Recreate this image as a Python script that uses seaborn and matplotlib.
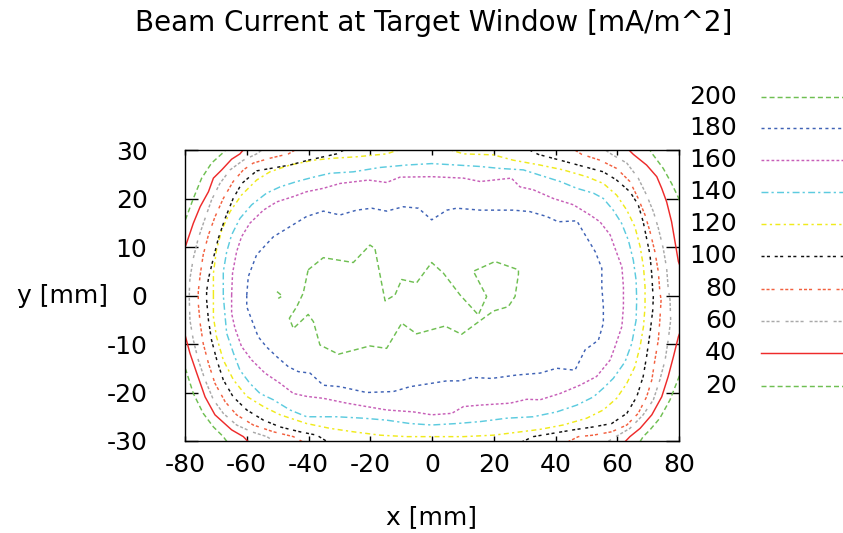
import numpy as np
import pandas as pd
import matplotlib
matplotlib.use("Agg")
import matplotlib.pyplot as plt
from matplotlib.lines import Line2D
import seaborn as sns

# ---------------- data ----------------
levels = ["200", "180", "160", "140", "120", "100", "80", "60", "40", "20"]

c200 = [
    [(-40.1, 5.3), (-35.2, 7.8), (-25.5, 6.8), (-20.1, 10.4), (-18.5, 9.7), (-15.2, -1.1),
     (-12.0, 0.1), (-9.8, 3.3), (-5.0, 2.6), (-0.1, 6.8), (3.7, 4.6), (9.1, 0.1),
     (15.0, -4.0), (17.7, -0.2), (13.4, 5.0), (20.4, 7.0), (28.0, 5.3), (28.0, 4.4),
     (26.9, -0.2), (24.7, -2.3), (19.9, -3.2), (14.5, -5.7), (9.6, -8.0), (4.2, -6.3),
     (-5.0, -7.9), (-9.8, -5.7), (-14.7, -10.9), (-20.1, -10.4), (-30.3, -12.1),
     (-36.3, -10.2), (-38.4, -5.4), (-40.1, -3.9), (-44.9, -6.8), (-46.2, -4.7),
     (-43.8, -2.3), (-41.7, 0.5), (-40.1, 5.3)],
    [(-50.2, 0.8), (-48.5, -0.1), (-49.8, -0.6)],
]

c180 = [
    [(-60.0, 0.1), (-59.5, 3.9), (-56.8, 8.4), (-51.4, 12.1), (-46.0, 14.2), (-40.6, 16.3),
     (-35.2, 17.4), (-29.8, 16.6), (-24.4, 17.6), (-19.5, 18.0), (-14.7, 17.4), (-9.3, 18.3),
     (-4.4, 18.0), (-0.1, 15.6), (4.8, 17.6), (8.0, 18.0), (15.6, 17.6), (26.3, 17.6),
     (31.7, 17.3), (37.1, 16.3), (40.9, 15.2), (46.9, 15.4), (49.6, 12.5), (52.9, 9.0),
     (55.0, 5.6), (55.0, 1.8), (55.5, -2.3), (55.5, -5.7), (53.9, -9.2), (49.6, -11.2),
     (46.3, -15.4), (40.4, -15.0), (35.0, -16.0), (27.4, -16.4), (19.3, -17.1),
     (13.4, -16.9), (9.1, -17.6), (4.8, -17.6), (-0.1, -18.1), (-7.1, -18.8),
     (-12.5, -19.8), (-21.2, -20.0), (-29.8, -18.8), (-35.2, -18.5), (-39.5, -16.0),
     (-43.3, -15.7), (-46.5, -14.7), (-50.3, -12.6), (-53.6, -10.6), (-56.3, -8.5),
     (-58.4, -5.0), (-60.0, -2.3), (-60.0, 0.1)],
]

c160 = [
    [(-64.9, 0.1), (-64.6, 4.6), (-63.3, 9.0), (-61.7, 12.1), (-59.0, 14.9), (-54.6, 17.6),
     (-50.3, 19.3), (-44.9, 20.4), (-40.6, 21.4), (-35.2, 22.1), (-29.8, 23.1),
     (-20.6, 23.8), (-14.7, 23.3), (-10.4, 24.4), (-0.1, 24.5), (10.2, 24.2), (15.6, 23.5),
     (25.7, 24.2), (28.5, 22.4), (32.8, 21.8), (39.3, 20.0), (45.8, 18.7), (51.2, 16.6),
     (54.4, 15.2), (57.7, 12.5), (59.3, 9.7), (61.5, 5.9), (62.0, 1.8), (62.0, -2.3),
     (61.5, -6.4), (59.3, -10.5), (57.7, -13.3), (53.3, -16.7), (47.9, -18.5),
     (41.5, -20.2), (35.0, -21.5), (30.7, -21.4), (25.3, -22.2), (15.6, -22.6),
     (10.2, -22.9), (6.4, -24.3), (-0.1, -24.6), (-6.0, -24.0), (-14.7, -23.6),
     (-21.2, -22.9), (-27.6, -22.2), (-35.2, -21.2), (-40.6, -20.8), (-44.9, -20.2),
     (-49.2, -18.1), (-54.1, -16.0), (-58.4, -13.3), (-61.7, -10.5), (-63.8, -6.8),
     (-64.9, -3.7), (-64.9, 0.1)],
]

c140 = [
    [(-67.6, 0.1), (-67.6, 4.9), (-66.5, 9.0), (-64.9, 12.5), (-62.2, 15.9), (-58.4, 18.7),
     (-53.6, 21.1), (-49.2, 22.4), (-43.8, 23.5), (-38.4, 24.4), (-33.0, 25.2),
     (-25.5, 25.5), (-16.8, 26.4), (-8.2, 26.9), (-0.1, 27.2), (8.0, 26.9), (15.6, 26.6),
     (22.0, 26.2), (29.6, 25.9), (35.0, 24.8), (41.5, 23.5), (46.9, 22.1), (52.3, 21.1),
     (55.5, 20.0), (58.7, 17.6), (61.4, 14.9), (63.6, 11.4), (65.2, 7.3), (66.1, 3.2),
     (66.3, -0.9), (66.1, -5.1), (64.7, -9.9), (62.5, -13.7), (58.7, -17.1), (55.5, -19.1),
     (52.3, -20.9), (46.9, -22.6), (40.4, -24.0), (32.8, -25.0), (24.2, -25.3),
     (15.6, -26.0), (8.0, -26.4), (-0.1, -26.7), (-7.1, -26.4), (-14.7, -25.7),
     (-22.2, -25.3), (-30.9, -25.0), (-40.6, -25.0), (-46.0, -23.6), (-51.4, -21.5),
     (-55.7, -20.2), (-59.0, -18.1), (-62.2, -15.4), (-64.3, -11.9), (-66.5, -7.8),
     (-67.1, -3.7), (-67.6, 0.1)],
]

c120 = [
    [(-70.8, 0.1), (-70.8, 4.6), (-69.8, 9.4), (-68.1, 13.5), (-65.4, 17.3), (-61.7, 20.7),
     (-56.8, 23.8), (-52.5, 25.5), (-46.0, 26.9), (-38.4, 27.9), (-32.0, 28.3),
     (-24.4, 28.6), (-14.7, 29.2), (-8.0, 30.6), (2.0, 30.8), (10.2, 29.2), (19.9, 29.0),
     (26.3, 27.9), (35.0, 26.9), (42.5, 25.9), (50.1, 24.5), (55.5, 23.1), (59.8, 20.7),
     (63.1, 17.6), (65.7, 14.2), (67.4, 10.1), (68.5, 5.9), (69.0, 1.8), (69.0, -2.3),
     (68.5, -6.4), (67.4, -10.5), (65.7, -14.7), (63.1, -18.1), (59.8, -21.2),
     (55.5, -23.6), (50.1, -25.3), (42.5, -26.7), (35.0, -27.6), (26.3, -28.3),
     (19.9, -28.8), (10.2, -29.1), (-0.1, -29.1), (-8.2, -29.1), (-16.8, -28.8),
     (-25.5, -28.1), (-33.0, -27.4), (-40.6, -26.4), (-49.2, -24.6), (-54.6, -22.9),
     (-60.0, -20.8), (-64.3, -17.4), (-67.6, -13.3), (-69.8, -8.5), (-70.8, -4.4),
     (-70.8, 0.1)],
]

c100 = [
    [(-27.0, 30.5), (-30.9, 29.2), (-40.1, 27.9), (-46.0, 26.9), (-56.8, 25.7),
     (-61.6, 23.1), (-64.4, 20.0), (-67.0, 15.9), (-69.2, 11.8), (-70.8, 7.7),
     (-72.4, 3.5), (-73.0, 0.8), (-73.0, -0.9), (-72.4, -5.1), (-71.4, -9.2),
     (-69.7, -13.3), (-67.6, -17.4), (-64.4, -20.9), (-60.0, -23.6), (-54.6, -25.7),
     (-49.2, -27.1), (-42.8, -28.1), (-37.3, -28.8), (-33.0, -30.5)],
    [(30.0, 30.5), (34.4, 29.1), (41.5, 27.9), (47.9, 26.8), (55.5, 25.5), (59.8, 23.8),
     (64.1, 21.4), (66.8, 18.7), (68.4, 15.2), (69.5, 11.8), (70.6, 8.4), (71.2, 4.2),
     (71.5, 0.8), (71.7, 0.1), (71.5, -3.0), (70.6, -7.8), (69.5, -12.6), (68.4, -16.7),
     (66.3, -20.9), (63.1, -24.3), (58.2, -26.4), (52.2, -27.1), (45.8, -27.7),
     (39.3, -28.4), (32.8, -29.1), (28.0, -30.5)],
]

c80 = [
    [(-43.0, 30.5), (-46.5, 29.2), (-52.5, 28.3), (-57.9, 27.3), (-61.1, 25.9),
     (-64.4, 23.5), (-67.6, 20.0), (-70.3, 16.2), (-72.4, 12.5), (-74.1, 8.4),
     (-75.1, 4.2), (-75.7, 0.8), (-75.7, -1.6), (-75.1, -5.7), (-74.1, -9.9),
     (-72.4, -14.0), (-70.3, -18.1), (-67.0, -21.9), (-63.3, -24.6), (-57.9, -26.7),
     (-51.4, -28.1), (-44.9, -29.1), (-41.0, -30.5)],
    [(45.0, 30.5), (48.5, 29.1), (54.4, 27.9), (59.8, 26.2), (64.1, 23.5), (66.8, 20.0),
     (69.0, 16.6), (70.6, 13.2), (72.2, 9.0), (73.3, 4.9), (73.8, 0.8), (74.2, -0.9),
     (73.8, -5.1), (73.3, -9.2), (72.2, -13.3), (71.2, -17.4), (69.5, -20.9),
     (66.8, -24.3), (63.1, -26.7), (58.2, -28.1), (52.2, -28.8), (47.4, -29.1),
     (43.0, -30.5)],
]

c60 = [
    [(-54.0, 30.5), (-56.8, 29.2), (-61.1, 27.9), (-65.4, 25.9), (-68.7, 23.1),
     (-71.4, 19.7), (-73.5, 15.9), (-75.7, 11.8), (-77.3, 7.7), (-78.4, 3.5),
     (-78.6, 0.8), (-78.6, -0.9), (-78.4, -5.1), (-77.3, -9.2), (-75.7, -13.3),
     (-73.5, -17.4), (-70.8, -21.5), (-67.6, -24.3), (-63.3, -26.7), (-58.4, -28.1),
     (-53.5, -29.1), (-50.0, -30.5)],
    [(55.0, 30.5), (58.2, 29.1), (63.1, 27.3), (66.8, 24.2), (69.5, 20.7), (71.7, 17.3),
     (73.3, 13.9), (74.9, 9.7), (76.0, 5.6), (76.5, 1.5), (77.1, -0.9), (77.3, -5.1),
     (76.5, -9.2), (75.5, -13.3), (73.8, -17.4), (71.7, -21.5), (68.4, -24.6),
     (64.1, -27.4), (59.8, -29.0), (56.0, -30.5)],
]

c40 = [
    [(-60.5, 30.5), (-62.2, 29.2), (-64.9, 28.1), (-68.1, 25.9), (-70.8, 24.2),
     (-72.4, 21.4), (-75.1, 18.3), (-77.3, 14.9), (-79.7, 10.4), (-81.0, 8.5)],
    [(-81.0, -6.5), (-80.0, -8.1), (-78.4, -11.9), (-76.2, -16.0), (-73.5, -20.9),
     (-70.3, -24.6), (-64.9, -27.7), (-61.1, -29.1), (-59.0, -30.5)],
    [(63.0, 30.5), (65.2, 29.1), (69.5, 26.9), (72.8, 24.5), (74.4, 22.1), (76.0, 19.3),
     (77.6, 15.2), (78.7, 11.1), (79.8, 7.0), (81.0, 5.0)],
    [(81.0, -6.5), (79.8, -8.5), (78.2, -12.6), (76.5, -16.7), (74.4, -20.9),
     (71.2, -24.6), (67.4, -27.4), (64.1, -29.1), (62.0, -30.5)],
]

c20 = [
    [(-66.0, 30.5), (-68.1, 29.2), (-71.4, 27.3), (-74.6, 24.2), (-77.3, 20.0),
     (-79.7, 15.9), (-81.0, 14.0)],
    [(-81.0, -13.5), (-79.7, -15.4), (-77.3, -20.2), (-74.1, -24.3), (-70.8, -27.1),
     (-67.6, -29.1), (-66.0, -30.5)],
    [(70.0, 30.5), (71.5, 29.1), (74.9, 26.2), (77.6, 23.1), (79.8, 20.2), (81.0, 18.0)],
    [(81.0, -15.0), (79.8, -17.1), (77.1, -21.5), (73.8, -25.3), (70.6, -27.7),
     (68.4, -29.1), (67.0, -30.5)],
]

x_ticks = [-80, -60, -40, -20, 0, 20, 40, 60, 80]
y_ticks = [-30, -20, -10, 0, 10, 20, 30]
title = "Beam Current at Target Window [mA/m^2]"

# ---------------- styles ----------------
colors = {"200": "#6fbf52", "180": "#3f62b5", "160": "#c75fb8", "140": "#5ccbdf",
          "120": "#f0ea1c", "100": "#111111", "80": "#f2603f", "60": "#a9a9a9",
          "40": "#ee2b2b", "20": "#6fbf52"}
dash_map = {"200": (3.6, 2.2), "180": (2.2, 2.4), "160": (2.0, 1.6),
            "140": (5.0, 2.2, 1.6, 2.4), "120": (3.6, 2.4, 1.6, 2.4),
            "100": (2.2, 1.7, 2.2, 3.4), "80": (2.2, 1.4, 2.2, 1.4, 2.2, 4.1),
            "60": (2.2, 1.4, 2.2, 1.4, 2.2, 1.4, 2.2, 4.3), "40": "", "20": (3.6, 2.2)}

contours = {"200": c200, "180": c180, "160": c160, "140": c140, "120": c120,
            "100": c100, "80": c80, "60": c60, "40": c40, "20": c20}

rows = []
for lev in levels:
    for j, arc in enumerate(contours[lev]):
        for i, (x, y) in enumerate(arc):
            rows.append({"level": lev, "seg": f"{lev}-{j}", "order": i, "x": x, "y": y})
df = pd.DataFrame(rows)

# ---------------- figure ----------------
plt.rcParams["lines.scale_dashes"] = False
plt.rcParams["axes.unicode_minus"] = False
plt.rcParams["font.family"] = ["DejaVu Sans"]
FS = 18

fig = plt.figure(figsize=(8.43, 5.33), dpi=100)
ax = fig.add_axes([185 / 843, 1 - 441 / 533, 494 / 843, 291 / 533])

sns.lineplot(data=df, x="x", y="y", hue="level", style="level", units="seg",
             estimator=None, sort=False, palette=colors, dashes=dash_map,
             hue_order=levels, style_order=levels, linewidth=1.05, legend=False, ax=ax)

ax.set_xlim(-80, 80)
ax.set_ylim(-30, 30)
ax.set_xticks(x_ticks)
ax.set_yticks(y_ticks)
ax.tick_params(axis="both", direction="in", top=True, right=True, width=1.0,
               color="black", labelsize=FS, labelcolor="black")
ax.tick_params(axis="x", length=3.6, pad=8.5)
ax.tick_params(axis="y", length=9.4, pad=27)
for s in ax.spines.values():
    s.set_linewidth(1.0)
    s.set_color("black")

ax.set_xlabel("x [mm]", fontsize=FS, va="center")
ax.xaxis.set_label_coords(0.5, (441 - 517) / 291)
ax.set_ylabel("y [mm]", fontsize=FS, rotation=0, ha="right", va="center")
ax.yaxis.set_label_coords((108 - 185) / 494, 0.5)

fig.text(434 / 843, 1 - 23 / 533, title, ha="center", va="center", fontsize=20)

# legend (labels right-aligned, line samples to the right)
leg_y = [97, 128, 160, 192, 224, 256, 289, 321, 353, 386]
for lev, py in zip(levels, leg_y):
    yf = 1 - py / 533
    fig.text(737 / 843, yf, lev, ha="right", va="center", fontsize=FS)
    ln = Line2D([761 / 843, 1.05], [yf, yf], transform=fig.transFigure,
                color=colors[lev], linewidth=1.05)
    if dash_map[lev]:
        ln.set_dashes(dash_map[lev])
    fig.add_artist(ln)

fig.savefig("out.png", dpi=100)
